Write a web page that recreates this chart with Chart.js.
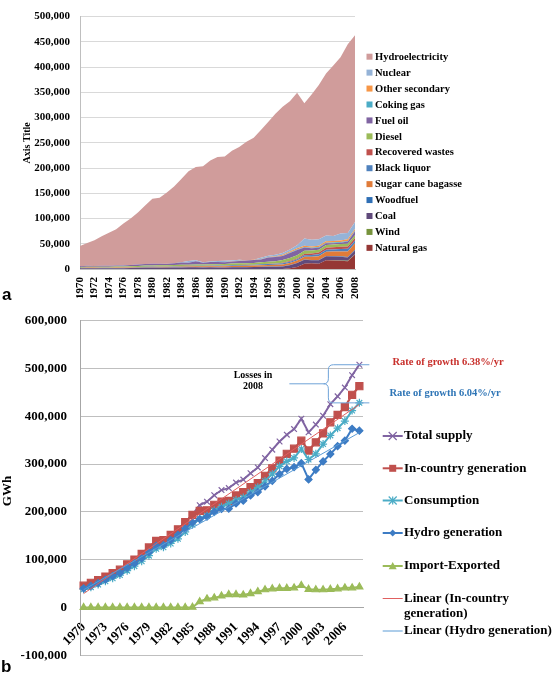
<!DOCTYPE html>
<html><head><meta charset="utf-8">
<script src="https://cdn.jsdelivr.net/npm/chart.js@4.4.1/dist/chart.umd.min.js"></script>
<style>
html,body{margin:0;padding:0;background:#fff;}
#wrap{position:relative;width:553px;height:676px;overflow:hidden;background:#fff;}
#c1{position:absolute;left:0;top:0;}
#c2{position:absolute;left:0;top:300px;}
</style></head><body>
<div id="wrap">
<canvas id="c1" width="553" height="305"></canvas>
<canvas id="c2" width="553" height="376"></canvas>
</div>
<script>
// ---------- DATA ----------
const years = ['1970','1971','1972','1973','1974','1975','1976','1977','1978','1979','1980','1981','1982','1983','1984','1985','1986','1987','1988','1989','1990','1991','1992','1993','1994','1995','1996','1997','1998','1999','2000','2001','2002','2003','2004','2005','2006','2007','2008'];

// Panel a: generation by source (GWh), stacked bottom -> top
const natGas = [0,0,0,0,0,0,0,0,0,0,0,0,0,0,0,0,0,0,0,0,0,0,0,0,0,0,0,0,0,1500,4000,10300,11500,10500,17500,17000,16500,15500,28800];
const wind = [0,0,0,0,0,0,0,0,0,0,0,0,0,0,0,0,0,0,0,0,0,0,0,0,0,0,0,0,0,0,0,0,0,0,0,100,200,700,600];
const coal = [1300,1500,1400,1500,1500,1600,1700,1800,2200,2500,2600,2700,2800,3000,3200,3300,3400,3200,3300,3200,2900,3500,3600,3700,3800,4300,4600,4700,4900,6000,7700,8200,5600,6700,7600,7700,7400,6500,7200];
const woodfuel = [300,300,300,300,300,300,300,300,300,300,300,300,300,300,300,300,300,300,300,300,300,400,400,400,400,400,400,400,400,400,400,500,600,700,800,900,1000,1200,1500];
const bagasse = [600,650,700,750,800,850,900,950,1000,1100,1200,1250,1300,1400,1500,1600,1700,1800,1900,2000,2100,2200,2300,2400,2500,2700,3000,3300,3600,4000,4500,5200,6500,7500,8100,8900,9800,11000,13000];
const blackLiquor = [200,220,240,260,280,300,350,400,450,500,600,650,700,750,800,900,950,1000,1100,1200,1300,1400,1500,1600,1700,1800,2000,2200,2400,2600,2800,3000,3300,3600,3900,4200,4600,5000,5500];
const recWastes = [100,100,100,100,100,100,100,100,100,100,100,100,100,100,100,100,100,100,100,100,200,200,200,200,200,200,300,400,1000,1200,1500,2500,3000,3500,4000,4300,4600,4800,5000];
const diesel = [1500,1700,1500,1600,1600,1700,1700,1800,2000,2200,2300,2300,2300,2400,2600,2400,2600,2600,2700,2800,2900,3000,3200,3300,3400,3900,4200,4500,5500,6000,6500,6500,6000,5500,5500,5300,5200,5300,5500];
const fuelOil = [1400,1830,1560,1790,1720,1850,2050,2350,2750,3200,3200,3000,3000,3450,4600,3700,6350,3200,4700,4300,3900,4150,4700,5000,5850,5600,8300,8300,7900,10200,10400,6500,4500,4300,3400,2800,2900,4300,7500];
const cokingGas = [100,100,100,100,100,100,100,100,100,100,100,100,100,100,100,100,100,100,100,100,100,100,100,150,150,200,300,400,600,700,800,900,1000,1100,1200,1300,1300,1400,1500];
const otherSec = [100,100,100,100,100,100,100,100,100,100,100,100,100,100,100,100,100,100,100,100,200,250,300,350,400,500,700,900,2000,2200,2400,2600,2700,2800,2900,3000,3000,3000,3000];
const nuclear = [0,0,0,0,0,0,0,0,0,0,0,0,0,0,0,3200,1500,900,600,1600,2200,1400,1800,400,100,2500,2400,3200,3300,4000,6000,14300,13000,12500,11600,9900,13800,12400,14000];
const hydro = [39900,45100,51000,58200,65500,72000,82800,92200,103000,115500,128900,130500,141000,152000,165000,178000,185000,190000,200000,206000,206700,217800,223500,234500,241500,253500,265000,279000,290000,293500,302000,268000,288000,305600,321000,337500,349000,374000,370000];

// Panel b (GWh)
const totalSupply = [45460,51600,57000,64700,72000,78900,90100,100100,112000,125600,139400,141000,151700,163600,178300,194200,214100,221300,234900,245700,249800,261400,267600,281000,293000,312600,330200,347300,361600,373300,395000,366500,382700,401300,425500,441900,460300,486100,508000];
const inCountryGen = [45460,51600,57000,64700,72000,78900,90100,100100,112000,125600,139400,141000,151700,163600,178300,193700,202100,203300,214900,221700,222800,234400,241600,252000,260000,275600,291200,307300,321600,332300,349000,328500,345700,364300,387500,402900,419300,445100,463100];
const consumption = [38000,42500,48000,54600,61000,67800,77000,86300,96700,108300,122700,126000,133800,143600,158100,172900,185500,192000,203000,211000,217700,224900,230000,241300,251500,264700,279500,295300,305900,313000,331600,309700,321600,341900,360000,375200,390000,412100,428200];
const hydroGen = hydro;
const importExported = [0,0,0,0,0,0,0,0,0,0,0,0,0,0,0,500,12000,18000,20000,24000,27000,27000,26000,29000,33000,37000,39000,40000,40000,41000,46000,38000,37000,37000,38000,39000,41000,41000,43000];
// Linear trend lines: end points (1970, 2008)
const trendGenEnds = [29000, 425000];
const trendHydroEnds = [37000, 366000];

const yTicksTop = [0,50000,100000,150000,200000,250000,300000,350000,400000,450000,500000];
const yTicksBottom = [-100000,0,100000,200000,300000,400000,500000,600000];

// ---------- HELPERS ----------
const SERIF = '"Liberation Serif","Times New Roman",serif';
const fmt = v => v.toLocaleString('en-US');
function endpoints(ends){ const a = years.map(()=>null); a[0]=ends[0]; a[a.length-1]=ends[1]; return a; }

function marker(ctx, style, x, y, r, color){
  ctx.save(); ctx.fillStyle=color; ctx.strokeStyle=color; ctx.lineWidth=1.2; ctx.beginPath();
  if(style==='rect'){ ctx.rect(x-r,y-r,2*r,2*r); ctx.fill(); }
  else if(style==='rectRot'){ ctx.moveTo(x,y-r); ctx.lineTo(x+r,y); ctx.lineTo(x,y+r); ctx.lineTo(x-r,y); ctx.closePath(); ctx.fill(); }
  else if(style==='triangle'){ ctx.moveTo(x,y-r); ctx.lineTo(x+r,y+r*0.8); ctx.lineTo(x-r,y+r*0.8); ctx.closePath(); ctx.fill(); }
  else if(style==='crossRot'){ ctx.moveTo(x-r,y-r); ctx.lineTo(x+r,y+r); ctx.moveTo(x+r,y-r); ctx.lineTo(x-r,y+r); ctx.stroke(); }
  else if(style==='star'){ ctx.moveTo(x-r,y-r); ctx.lineTo(x+r,y+r); ctx.moveTo(x+r,y-r); ctx.lineTo(x-r,y+r); ctx.moveTo(x,y-r); ctx.lineTo(x,y+r); ctx.stroke(); }
  ctx.restore();
}

// ---------- PANEL A ----------
const areaSeries = [
  ['Natural gas', natGas, '#953735'],
  ['Wind', wind, '#77933c'],
  ['Coal', coal, '#604a7b'],
  ['Woodfuel', woodfuel, '#2f6fb5'],
  ['Sugar cane bagasse', bagasse, '#e07b39'],
  ['Black liquor', blackLiquor, '#4f81bd'],
  ['Recovered wastes', recWastes, '#c0504d'],
  ['Diesel', diesel, '#9bbb59'],
  ['Fuel oil', fuelOil, '#8064a2'],
  ['Coking gas', cokingGas, '#4bacc6'],
  ['Other secondary', otherSec, '#f79646'],
  ['Nuclear', nuclear, '#95b3d7'],
  ['Hydroelectricity', hydro, '#d09c9b']
];

const topExtras = {
  id:'topExtras',
  afterDraw(chart){
    const ctx = chart.ctx, ca = chart.chartArea;
    ctx.save();
    ctx.fillStyle='#000';
    ctx.font = 'bold 10px '+SERIF; ctx.textAlign='center'; ctx.textBaseline='middle';
    ctx.translate(27,(ca.top+ca.bottom)/2); ctx.rotate(-Math.PI/2); ctx.fillText('Axis Title',0,0);
    ctx.restore();
    ctx.save();
    ctx.font='bold 10.5px '+SERIF; ctx.textBaseline='middle'; ctx.textAlign='left';
    const items = areaSeries.slice().reverse();
    items.forEach((s,i)=>{
      const y = 56.7 + i*15.93;
      ctx.fillStyle=s[2]; ctx.fillRect(366.5,y-3,6,6);
      ctx.fillStyle='#000'; ctx.fillText(s[0],375,y+0.5);
    });
    ctx.font='bold 17px "Liberation Sans",Arial,sans-serif'; ctx.textBaseline='alphabetic';
    ctx.fillText('a',2,300);
    ctx.restore();
  }
};

new Chart(document.getElementById('c1'),{
  type:'line',
  data:{ labels: years, datasets: areaSeries.map((s,i)=>({
    label:s[0], data:s[1], backgroundColor:s[2], borderColor:s[2], borderWidth:0,
    fill: i===0 ? 'origin' : '-1', pointRadius:0, tension:0
  }))},
  options:{
    responsive:false, animation:false, events:[],
    layout:{padding:{left:0,top:5,right:198,bottom:0}},
    plugins:{legend:{display:false}, tooltip:{enabled:false}},
    scales:{
      x:{ type:'category', offset:false,
        grid:{display:false, drawTicks:false},
        border:{display:true,color:'#bfbfbf'},
        ticks:{autoSkip:false, maxRotation:90, minRotation:90, padding:8, color:'#000',
          font:{family:SERIF, size:11, weight:'bold'},
          callback:(v,i)=> i%2===0 ? years[i] : null },
        afterFit:s=>{ s.height = 36; }
      },
      y:{ stacked:true, min:0, max:500000,
        afterBuildTicks:s=>{ s.ticks = yTicksTop.map(v=>({value:v})); },
        grid:{color:'#d9d9d9', drawTicks:false, tickLength:0},
        border:{display:true,color:'#bfbfbf'},
        ticks:{padding:10, color:'#000', font:{family:SERIF,size:11,weight:'bold'}, callback:v=>fmt(v)},
        afterFit:s=>{ s.width = 80; }
      }
    }
  },
  plugins:[topExtras]
});

// ---------- PANEL B ----------
const lineSeries = [
  {label:'Total supply', data: totalSupply, color:'#8064a2', style:'crossRot', r:4, bw:2, order:7},
  {label:'In-country generation', data: inCountryGen, color:'#c0504d', style:'rect', r:5, bw:2.2, order:6},
  {label:'Consumption', data: consumption, color:'#4bacc6', style:'star', r:4, bw:2, order:5},
  {label:'Hydro generation', data: hydroGen, color:'#3d7cc4', style:'rectRot', r:3.5, bw:2, order:4},
  {label:'Import-Exported', data: importExported, color:'#9bbb59', style:'triangle', r:4, bw:2, order:3},
  {label:'Linear (In-country generation)', data: endpoints(trendGenEnds), color:'#e06060', style:null, r:0, bw:1, order:2},
  {label:'Linear (Hydro generation)', data: endpoints(trendHydroEnds), color:'#5b9bd5', style:null, r:0, bw:1, order:1}
];

const bottomExtras = {
  id:'bottomExtras',
  afterDraw(chart){
    const ctx = chart.ctx, ca = chart.chartArea, xs = chart.scales.x, ys = chart.scales.y;
    ctx.save();
    // y title
    ctx.fillStyle='#000'; ctx.font='bold 13px '+SERIF; ctx.textAlign='center'; ctx.textBaseline='middle';
    ctx.translate(8, 191); ctx.rotate(-Math.PI/2); ctx.fillText('GWh',0,0);
    ctx.restore();

    // brace showing losses in 2008
    const last = years.length-1;
    const x08 = xs.getPixelForValue(last);
    const yTop = ys.getPixelForValue(totalSupply[last]);
    const yBot = ys.getPixelForValue(consumption[last]);
    const yMid = (yTop+yBot)/2;
    const xB = x08-31, xR = x08+10, xT = x08-70, k=5;
    ctx.save();
    ctx.strokeStyle='#6fa3d8'; ctx.lineWidth=1; ctx.beginPath();
    ctx.moveTo(xR,yTop); ctx.lineTo(xB+k,yTop); ctx.quadraticCurveTo(xB,yTop,xB,yTop+k);
    ctx.lineTo(xB,yMid-k); ctx.quadraticCurveTo(xB,yMid,xB-k,yMid); ctx.lineTo(xT,yMid);
    ctx.moveTo(xB-k,yMid); ctx.quadraticCurveTo(xB,yMid,xB,yMid+k); ctx.lineTo(xB,yBot-k);
    ctx.quadraticCurveTo(xB,yBot,xB+k,yBot); ctx.lineTo(xR,yBot);
    ctx.stroke(); ctx.restore();

    ctx.save();
    ctx.textAlign='center'; ctx.textBaseline='middle';
    ctx.fillStyle='#000'; ctx.font='bold 10px '+SERIF;
    ctx.fillText('Losses in',253,75); ctx.fillText('2008',253,86.7);
    ctx.font='bold 10.5px '+SERIF;
    ctx.fillStyle='#c8302c'; ctx.fillText('Rate of growth 6.38%/yr',448,62.5);
    ctx.fillStyle='#2e75b6'; ctx.fillText('Rate of growth 6.04%/yr',445,93);
    ctx.restore();

    // legend
    ctx.save();
    ctx.font='bold 13px '+SERIF; ctx.textBaseline='middle'; ctx.textAlign='left'; 
    const ly = [136,168.3,200.5,233,266,298.5,331];
    lineSeries.forEach((s,i)=>{
      const y = ly[i];
      ctx.strokeStyle=s.color; ctx.lineWidth = s.style ? 2 : 1;
      ctx.beginPath(); ctx.moveTo(382.7,y); ctx.lineTo(402.7,y); ctx.stroke();
      if(s.style) marker(ctx, s.style, 392.7, y, s.style==='rect'?3.5:s.r, s.color);
      ctx.fillStyle='#000';
      if(s.label==='Linear (In-country generation)'){
        ctx.fillText('Linear (In-country',404,y); ctx.fillText('generation)',404,y+15.5);
      } else ctx.fillText(s.label,404,y);
    });
    ctx.font='bold 17px "Liberation Sans",Arial,sans-serif'; ctx.textBaseline='alphabetic';
    ctx.fillText('b',1,372);
    ctx.restore();
  }
};

new Chart(document.getElementById('c2'),{
  type:'line',
  data:{ labels: years, datasets: lineSeries.map(s=>({
    label:s.label, data:s.data, borderColor:s.color, backgroundColor:s.color,
    borderWidth:s.bw, pointStyle:s.style||'circle', pointRadius:s.r,
    pointBackgroundColor:s.color, pointBorderColor:s.color, pointBorderWidth:1.2,
    fill:false, tension:0, spanGaps:true, order:s.order
  }))},
  options:{
    responsive:false, animation:false, events:[],
    layout:{padding:{left:0,top:16,right:190,bottom:10}},
    plugins:{legend:{display:false}, tooltip:{enabled:false}},
    scales:{
      x:{ type:'category', offset:true, position:{y:0},
        grid:{display:false, drawTicks:false},
        border:{display:true,color:'#a6a6a6'},
        ticks:{autoSkip:false, maxRotation:45, minRotation:45, padding:12, color:'#000',
          font:{family:SERIF,size:13,weight:'bold'},
          callback:(v,i)=> i%3===0 ? years[i] : null }
      },
      y:{ min:-100000, max:600000,
        afterBuildTicks:s=>{ s.ticks = yTicksBottom.map(v=>({value:v})); },
        grid:{color:'#bfbfbf', drawTicks:false, tickLength:0},
        border:{display:true,color:'#a6a6a6'},
        ticks:{padding:13, color:'#000', font:{family:SERIF,size:13,weight:'bold'}, callback:v=>fmt(v)},
        afterFit:s=>{ s.width = 80; }
      }
    }
  },
  plugins:[bottomExtras]
});
</script>
</body></html>
